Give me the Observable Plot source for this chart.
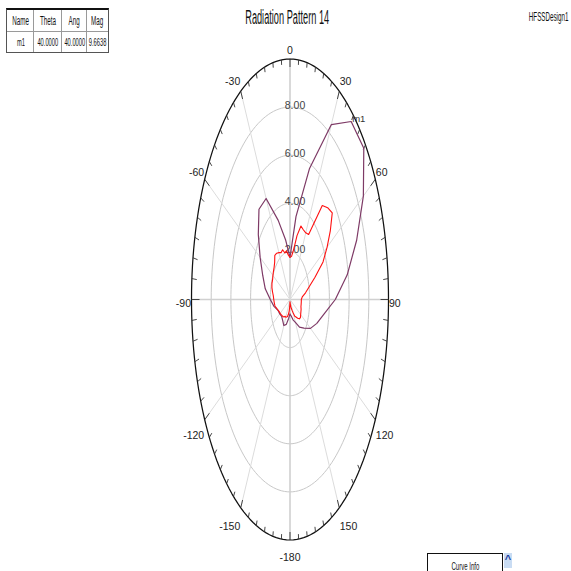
<!DOCTYPE html>
<html>
<head>
<meta charset="utf-8">
<script src="https://cdn.jsdelivr.net/npm/d3@7"></script>
<script src="https://cdn.jsdelivr.net/npm/@observablehq/plot@0.6"></script>
<style>
  body { margin: 0; background: #fff; }
  #wrap { position: relative; width: 571px; height: 571px; overflow: hidden; font-family: "Liberation Sans", Arial, sans-serif; color: #111; }
  #head { position: relative; height: 40px; }
  .sq { display: inline-block; white-space: nowrap; }
  #title { position: absolute; left: 0; width: 575px; top: 5px; text-align: center; font-size: 20px; line-height: 24px; }
  #title .sq { transform: scaleX(0.46); }
  #design { position: absolute; right: 3px; top: 9px; font-size: 13px; line-height: 15px; text-align: right; }
  #design .sq { transform: scaleX(0.48); transform-origin: right center; }
  #tbl { position: absolute; left: 6px; top: 8px; width: 103px; height: 45px; border: 1px solid #555; border-top: 2px solid #111; box-sizing: border-box; }
  .cell { position: absolute; display: flex; align-items: center; justify-content: center; overflow: visible; font-size: 11.5px; box-sizing: border-box; }
  .cell .sq { transform: scaleX(0.5); }
  .vline { position: absolute; top: 0; bottom: 0; width: 1px; background: #9a9a9a; }
  .hline { position: absolute; left: 0; right: 0; height: 1px; background: #9a9a9a; }
  #curve { position: absolute; left: 427px; top: 553px; width: 76px; height: 30px; border: 1px solid #111; border-bottom: none; box-sizing: border-box; text-align: center; font-size: 11px; line-height: 24px; background: #fff; }
  #curve .sq { transform: scaleX(0.55); }
  #scroll { position: absolute; left: 504px; top: 553px; width: 8px; height: 15px; background: #c9dcf3; color: #1b3c9e; font-size: 11px; line-height: 12px; text-align: center; font-weight: bold; overflow: hidden; }
  #chart { position: absolute; left: 0; top: 40px; }
</style>
</head>
<body>
<div id="wrap">
  <div id="head">
    <div id="title"><span class="sq">Radiation Pattern 14</span></div>
    <div id="design"><span class="sq">HFSSDesign1</span></div>
  </div>
  <div id="chart"></div>
  <div id="tbl"></div>
  <div id="curve"><span class="sq">Curve Info</span></div>
  <div id="scroll">&#94;</div>
</div>
<script>
// ---- data ----
const purpleTheta = [-180,-170,-160,-150,-140,-130,-120,-110,-100,-90,-80,-70,-60,-50,-40,-30,-20,-10,0,10,20,30,40,50,60,70,80,90,100,110,120,130,140,150,160,170,180];
const purpleMag   = [0.6,0.8,1.1,1.25,1.15,1.1,1.2,1.3,1.65,2.0,2.55,2.95,3.5,4.2,4.9,4.85,3.5,2.5,1.75,3.5,5.8,8.4,9.66,9.78,8.6,7.2,5.9,4.6,3.5,2.9,2.4,1.85,1.5,1.1,0.9,0.7,0.6];

const redTheta = [-180,-175,-170,-165,-160,-155,-150,-145,-140,-135,-130,-125,-120,-115,-110,-105,-100,-95,-90,-85,-80,-75,-70,-65,-60,-55,-50,-45,-40,-35,-30,-25,-20,-15,-10,-5,0,5,10,15,20,25,30,35,40,45,50,55,60,65,70,75,80,85,90,95,100,105,110,115,120,125,130,135,140,145,150,155,160,165,170,175,180];
const redMag   = [0.1,0.3,0.5,0.65,0.75,0.8,0.85,0.85,0.95,1.0,1.05,1.1,1.15,1.2,1.3,1.4,1.55,1.6,1.65,1.7,1.8,1.9,1.95,1.95,2.0,2.05,2.1,2.2,2.4,2.35,2.25,2.15,2.2,2.0,2.05,1.85,1.75,1.8,2.1,2.75,3.25,3.2,3.2,3.3,5.1,5.4,5.6,5.0,4.35,3.7,2.7,2.0,1.6,1.25,1.15,1.15,1.15,1.15,1.2,1.22,1.25,1.3,1.25,1.1,0.95,0.85,0.65,0.5,0.4,0.3,0.2,0.15,0.1];

const ringValues = [2, 4, 6, 8];
const ringLabels = ["2.00", "4.00", "6.00", "8.00"];
const radialMax = 10;
const angleValues = [0, 30, 60, 90, 120, 150, 180, -150, -120, -90, -60, -30];
const angleLabels = ["0", "30", "60", "90", "120", "150", "-180", "-150", "-120", "-90", "-60", "-30"];
const tickStep = 5;

const markerName = "m1", markerTheta = 40, markerAng = 40, markerMag = 9.6638;
const tableHeader = ["Name", "Theta", "Ang", "Mag"];
const tableRow = [markerName, markerTheta.toFixed(4), markerAng.toFixed(4), markerMag.toFixed(4)];

// ---- layout ----
const W = 571, H = 531;
const ML = 191, MR = 183, MT = 18.5, MB = 31.5;
const kx = (W - ML - MR) / (2 * radialMax);
const ky = (H - MT - MB) / (2 * radialMax);
const rad = d => d * Math.PI / 180;
const pt = (th, r) => ({x: r * Math.sin(rad(th)), y: r * Math.cos(rad(th))});

// rings
const circle = [];
for (let a = 0; a <= 360; a += 2) circle.push(a);
const ringPts = ringValues.flatMap(v => circle.map(a => ({...pt(a, v), ring: v})));
const outerPts = circle.map(a => pt(a, radialMax));

// spokes every 30 deg
const spokes = [];
for (let a = 0; a < 360; a += 30) spokes.push({a, ...pt(a, radialMax)});

// ticks
const ticks = [];
for (let a = -175; a <= 180; a += tickStep) {
  const len = (a % 30 === 0) ? 8 : 5;
  const L = Math.hypot(radialMax * kx * Math.sin(rad(a)), radialMax * ky * Math.cos(rad(a)));
  const rIn = radialMax * (1 - len / L);
  const p1 = pt(a, radialMax), p2 = pt(a, rIn);
  ticks.push({x1: p1.x, y1: p1.y, x2: p2.x, y2: p2.y});
}

// angle labels
const labelData = angleValues.map((a, i) => {
  const p = pt(a, radialMax);
  const s = Math.sin(rad(a)), c = Math.cos(rad(a));
  const sg = Math.sign(Math.round(s * 1000));
  const ox = 0.5 * sg;
  const oy = -13 * c + 4.5 - 12 * c * s * s; // screen px, down positive
  return {a, label: angleLabels[i], x: p.x + ox / kx, y: p.y - oy / ky,
          side: sg === 0 ? "mid" : (sg > 0 ? "pos" : "neg")};
});

const purple = purpleTheta.map((t, i) => pt(t, purpleMag[i]));
const red = redTheta.map((t, i) => pt(t, redMag[i]));
const ringText = ringValues.map((v, i) => ({y: v, label: ringLabels[i]}));
const mk = [{...pt(markerTheta, markerMag), label: markerName}];

const FONT = '"Liberation Sans", Arial, sans-serif';
const plot = Plot.plot({
  width: W, height: H,
  marginLeft: ML, marginRight: MR, marginTop: MT, marginBottom: MB,
  x: {domain: [-radialMax, radialMax], axis: null},
  y: {domain: [-radialMax, radialMax], axis: null},
  style: {background: "transparent", fontFamily: FONT, overflow: "visible"},
  marks: [
    Plot.line(ringPts, {x: "x", y: "y", z: "ring", stroke: "#c8c8c8", strokeWidth: 1}),
    Plot.link(spokes, {x1: 0, y1: 0, x2: "x", y2: "y", stroke: d => (d.a % 90 === 0 ? "#d0d0d0" : "#dcdcdc"), strokeWidth: d => (d.a % 90 === 0 ? 1.6 : 1)}),
    Plot.line(outerPts, {x: "x", y: "y", stroke: "#111", strokeWidth: 1.25}),
    Plot.link(ticks, {x1: "x1", y1: "y1", x2: "x2", y2: "y2", stroke: "#333", strokeWidth: 0.9}),
    Plot.text(ringText, {x: 0, y: "y", text: "label", textAnchor: "middle", dx: 5, dy: -1.5, fontSize: 10.5, fill: "#444", ariaLabel: "ring-labels"}),
    Plot.line(purple, {x: "x", y: "y", stroke: "#7e3a66", strokeWidth: 1.2}),
    Plot.line(red, {x: "x", y: "y", stroke: "#ff1010", strokeWidth: 1.1}),
    Plot.text(mk, {x: "x", y: "y", text: "label", textAnchor: "start", dx: 1, dy: -3, fontSize: 9.5, fill: "#333", ariaLabel: "marker-label"}),
    Plot.text(labelData.filter(d => d.side === "pos"), {x: "x", y: "y", text: "label", textAnchor: "start", fontSize: 10.5, fill: "#222", ariaLabel: "angle-labels"}),
    Plot.text(labelData.filter(d => d.side === "neg"), {x: "x", y: "y", text: "label", textAnchor: "end", fontSize: 10.5, fill: "#222", ariaLabel: "angle-labels"}),
    Plot.text(labelData.filter(d => d.side === "mid"), {x: "x", y: "y", text: "label", textAnchor: "middle", fontSize: 10.5, fill: "#222", ariaLabel: "angle-labels"})
  ]
});

// horizontally condensed text, as in the reference
function condense(sel, f) {
  plot.querySelectorAll(sel).forEach(t => {
    const tr = t.getAttribute("transform") || "";
    t.setAttribute("transform", tr + ` scale(${f},1)`);
  });
}
condense('g[aria-label="angle-labels"] text', 0.68);
condense('g[aria-label="ring-labels"] text', 0.7);
condense('g[aria-label="marker-label"] text', 0.7);
document.getElementById("chart").appendChild(plot);

// marker table
const tbl = document.getElementById("tbl");
const colEdges = [0, 27, 55, 80, 101];
const rowEdges = [0, 21, 43];
for (let c = 1; c < colEdges.length - 1; c++) {
  const v = document.createElement("div");
  v.className = "vline"; v.style.left = (colEdges[c] - 1) + "px";
  tbl.appendChild(v);
}
const h = document.createElement("div");
h.className = "hline"; h.style.top = (rowEdges[1]) + "px";
tbl.appendChild(h);
[tableHeader, tableRow].forEach((row, ri) => {
  row.forEach((v, ci) => {
    const d = document.createElement("div");
    d.className = "cell";
    d.style.left = colEdges[ci] + "px";
    d.style.width = (colEdges[ci + 1] - colEdges[ci]) + "px";
    d.style.top = rowEdges[ri] + "px";
    d.style.height = (rowEdges[ri + 1] - rowEdges[ri]) + "px";
    if (ri === 0) d.style.fontSize = "12.5px";
    const s = document.createElement("span");
    s.className = "sq";
    s.textContent = v;
    d.appendChild(s);
    tbl.appendChild(d);
  });
});
</script>
</body>
</html>
